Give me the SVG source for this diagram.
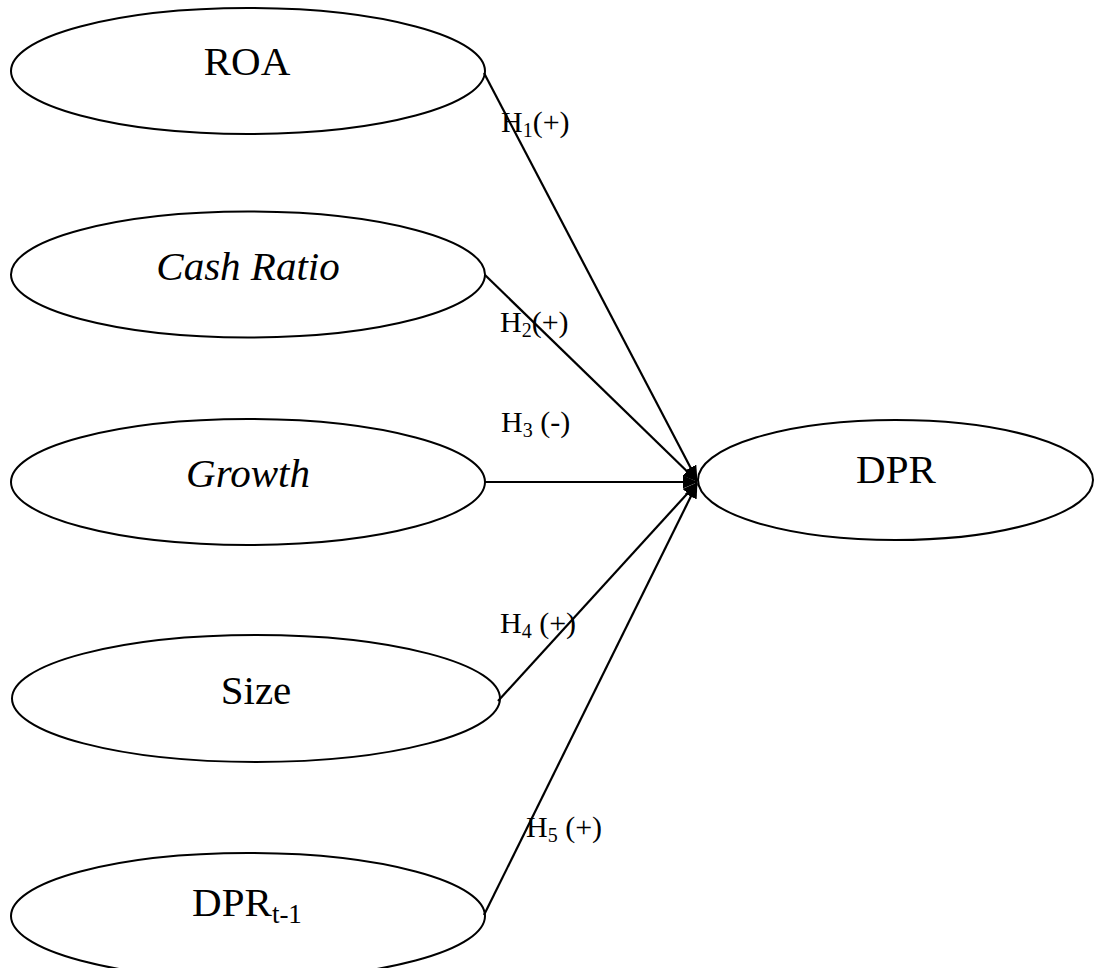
<svg xmlns="http://www.w3.org/2000/svg" width="1094" height="968" viewBox="0 0 1094 968">
<style>
.node{fill:#fff;stroke:#000;stroke-width:2}
.t{font-family:"Liberation Serif","Times New Roman",serif;font-size:41px;fill:#000;text-anchor:middle}
.i{font-style:italic}
.lbl{font-family:"Liberation Serif","Times New Roman",serif;font-size:30px;fill:#000}
.edge{stroke:#000;stroke-width:2.2;fill:none;marker-end:url(#arr)}
</style>
<defs>
<marker id="arr" markerUnits="userSpaceOnUse" markerWidth="15" markerHeight="13" refX="14" refY="6.5" orient="auto">
<path d="M0,0 L15,6.5 L0,13 z" fill="#000"/>
</marker>
</defs>
<g id="node-roa"><ellipse class="node" cx="248" cy="71" rx="237" ry="63"/><text class="t" x="247" y="75">ROA</text></g>
<g id="node-cash"><ellipse class="node" cx="248" cy="274.5" rx="237" ry="63"/><text class="t i" x="248" y="279.5">Cash Ratio</text></g>
<g id="node-growth"><ellipse class="node" cx="248" cy="482" rx="237" ry="63"/><text class="t i" x="248" y="487">Growth</text></g>
<g id="node-size"><ellipse class="node" cx="256" cy="698.5" rx="244" ry="63.5"/><text class="t" x="256" y="703.5">Size</text></g>
<g id="node-dprt1"><ellipse class="node" cx="248" cy="916" rx="237" ry="63"/><text class="t" x="247" y="916">DPR<tspan font-size="27" dy="7">t-1</tspan></text></g>
<g id="node-dpr"><ellipse class="node" cx="895.5" cy="480" rx="197.5" ry="60"/><text class="t" x="896" y="483">DPR</text></g>
<g id="connectors">
<line class="edge" x1="484" y1="73" x2="697" y2="480"/>
<line class="edge" x1="485" y1="275" x2="697" y2="481"/>
<line class="edge" x1="485" y1="482" x2="697" y2="482"/>
<line class="edge" x1="498" y1="701" x2="697" y2="483"/>
<line class="edge" x1="484" y1="915" x2="697" y2="484"/>
</g>
<g id="labels">
<text class="lbl" x="501" y="132">H<tspan font-size="20" dy="5">1</tspan><tspan dy="-5">(+)</tspan></text>
<text class="lbl" x="500" y="332">H<tspan font-size="20" dy="5">2</tspan><tspan dy="-5">(+)</tspan></text>
<text class="lbl" x="501" y="432">H<tspan font-size="20" dy="5">3</tspan><tspan dy="-5"> (-)</tspan></text>
<text class="lbl" x="500" y="633">H<tspan font-size="20" dy="5">4</tspan><tspan dy="-5"> (+)</tspan></text>
<text class="lbl" x="526" y="837">H<tspan font-size="20" dy="5">5</tspan><tspan dy="-5"> (+)</tspan></text>
</g>
</svg>
